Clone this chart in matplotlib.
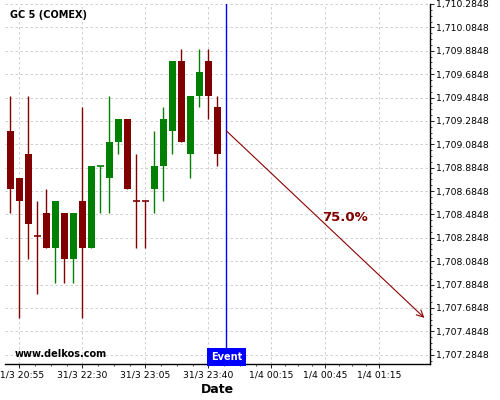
import matplotlib
matplotlib.use('Agg')
import matplotlib.pyplot as plt
import numpy as np
from matplotlib.ticker import FuncFormatter, MultipleLocator

# 5-minute candles, GC 5 (COMEX)
opens  = [1709.2, 1708.8, 1709.0, 1708.3, 1708.5, 1708.2, 1708.5, 1708.1,
          1708.6, 1708.2, 1708.9, 1708.8, 1709.1, 1709.3, 1708.6, 1708.6,
          1708.7, 1708.9, 1709.2, 1709.8, 1709.0, 1709.5, 1709.8, 1709.4]
highs  = [1709.5, 1708.8, 1709.5, 1708.6, 1708.7, 1708.6, 1708.5, 1708.5,
          1709.4, 1708.9, 1708.9, 1709.5, 1709.3, 1709.3, 1709.0, 1708.6,
          1709.2, 1709.4, 1709.8, 1709.9, 1709.5, 1709.9, 1709.9, 1709.5]
lows   = [1708.5, 1707.6, 1708.1, 1707.8, 1708.2, 1707.9, 1707.9, 1707.9,
          1707.6, 1708.2, 1708.5, 1708.5, 1709.0, 1708.7, 1708.2, 1708.2,
          1708.5, 1708.6, 1709.0, 1709.1, 1708.8, 1709.4, 1709.3, 1708.9]
closes = [1708.7, 1708.6, 1708.4, 1708.3, 1708.2, 1708.6, 1708.1, 1708.5,
          1708.2, 1708.9, 1708.9, 1709.1, 1709.3, 1708.7, 1708.6, 1708.6,
          1708.9, 1709.3, 1709.8, 1709.1, 1709.5, 1709.7, 1709.5, 1709.0]
bullish = [False, False, False, False, False, True, False, True,
           False, True, True, True, True, False, False, False,
           True, True, True, False, True, True, False, False]

tick_pos = [1, 8, 15, 22, 29, 35, 41]
tick_labels = ['31/3 20:55', '31/3 22:30', '31/3 23:05', '31/3 23:40',
               '1/4 00:15', '1/4 00:45', '1/4 01:15']

event_idx = 24
arrow_start = (24, 1709.2)
arrow_end = (46, 1707.6)
prob_text = '75.0%'

fig = plt.figure(figsize=(5, 4), dpi=100)
ax = fig.add_axes([0.01, 0.09, 0.85, 0.90])

# 蜡烛
for i in range(len(opens)):
    col = '#008000' if bullish[i] else '#800000'
    ax.vlines(i, lows[i], highs[i], color=col, linewidth=1, zorder=3)
    lo = min(opens[i], closes[i])
    h = abs(closes[i] - opens[i])
    if h < 1e-9:
        ax.hlines(opens[i], i - 0.39, i + 0.39, color=col, linewidth=1.2, zorder=3)
    else:
        ax.bar(i, h, bottom=lo, width=0.78, color=col, linewidth=0, zorder=3)

# 事件线与预测箭头
ax.axvline(event_idx, color='#0000ff', linewidth=1, zorder=4)
ax.annotate('', xy=arrow_end, xytext=arrow_start,
            arrowprops=dict(arrowstyle='->', color='#8b0000', lw=0.8,
                            mutation_scale=12, shrinkA=0, shrinkB=0), zorder=4)
ax.text(37.2, 1708.46, prob_text, color='#800000', fontsize=9.5,
        fontweight='bold', ha='center', va='center')

ax.set_xlim(-0.59, 46.63)
ax.set_ylim(1707.205, 1710.2848)

ax.set_xticks(tick_pos)
ax.set_xticklabels(tick_labels, fontsize=6.7)
minor_x = []
for a, b in zip(tick_pos[:-1], tick_pos[1:]):
    minor_x += list(np.linspace(a, b, 5)[1:-1])
ax.set_xticks(minor_x, minor=True)

ax.yaxis.tick_right()
ax.yaxis.set_major_locator(MultipleLocator(0.2, offset=0.0848))
ax.yaxis.set_minor_locator(MultipleLocator(0.05, offset=0.0348))
ax.yaxis.set_major_formatter(FuncFormatter(lambda v, p: f'{v:,.4f}'))
ax.tick_params(axis='y', labelsize=6.7, length=3, width=0.6, pad=1)
ax.tick_params(axis='y', which='minor', length=1.5, width=0.5)
ax.tick_params(axis='x', length=3, width=0.6, pad=2)
ax.tick_params(axis='x', which='minor', length=1.5, width=0.5)

ax.grid(True, which='major', color='#c8c8c8', linestyle=(0, (3, 3)), linewidth=0.6)
ax.set_axisbelow(True)
for s in ['left', 'top']:
    ax.spines[s].set_visible(False)
for s in ['right', 'bottom']:
    ax.spines[s].set_linewidth(1)

ax.set_xlabel('Date', fontsize=9, fontweight='bold')
ax.xaxis.set_label_coords(0.5, -0.052)

fig.text(0.02, 0.9625, 'GC 5 (COMEX)', fontsize=7, fontweight='bold',
         ha='left', va='center')
ax.text(0.023, 0.028, 'www.delkos.com', transform=ax.transAxes, fontsize=7,
        fontweight='bold', ha='left', va='center')
ax.text(event_idx, 0.019, 'Event', transform=ax.get_xaxis_transform(),
        color='white', fontsize=7, fontweight='bold', ha='center', va='center',
        bbox=dict(boxstyle='square,pad=0.4', facecolor='#0000ff', edgecolor='none'),
        zorder=5)

plt.savefig('out.png', dpi=100)
plt.close()
